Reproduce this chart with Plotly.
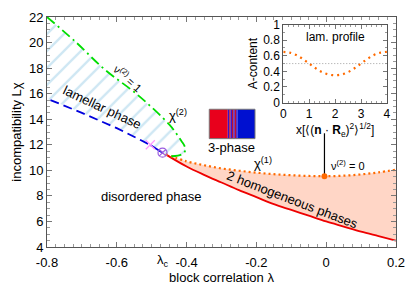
import plotly.graph_objects as go

# ---------------- data ----------------
lam_red = [-0.46, -0.40, -0.35, -0.30, -0.25, -0.20, -0.15, -0.10, -0.05, 0.00, 0.05, 0.10, 0.15, 0.20]
chi_red = [11.25, 10.3, 9.65, 9.05, 8.45, 7.9, 7.35, 6.9, 6.45, 6.0, 5.6, 5.2, 4.85, 4.5]

lam_orange = [-0.46, -0.40, -0.35, -0.30, -0.25, -0.20, -0.15, -0.10, -0.05, 0.00, 0.05, 0.10, 0.15, 0.20]
chi_orange = [11.25, 10.7, 10.4, 10.15, 9.97, 9.82, 9.7, 9.62, 9.56, 9.54, 9.58, 9.68, 9.84, 10.05]

lam_green = [-0.80, -0.72, -0.635, -0.54, -0.45, -0.43, -0.415, -0.405, -0.404, -0.41, -0.425, -0.445]
chi_green = [22.0, 20.1, 17.9, 15.9, 13.6, 12.9, 12.3, 11.85, 11.55, 11.3, 11.15, 11.1]

lam_blue_dash = [-0.79, -0.70, -0.60, -0.505]
chi_blue_dash = [15.5, 14.5, 13.3, 12.0]
lam_blue_solid = [-0.505, -0.469]
chi_blue_solid = [12.0, 11.38]

lam_cross, chi_cross = [-0.504], [12.0]
lam_crit, chi_crit = [-0.469], [11.38]
lam_nu0, chi_nu0 = [-0.005], [9.54]
lam_pointer, chi_pointer = [-0.005, -0.005], [9.54, 12.9]

x_ticks = [-0.8, -0.6, -0.4, -0.2, 0, 0.2]
x_tick_text = ["-0.8", "-0.6", "-0.4", "-0.2", "0", "0.2"]
y_ticks = [4, 6, 8, 10, 12, 14, 16, 18, 20, 22]

# inset: lamellar profile
x_prof = [0, 0.25, 0.5, 0.75, 1, 1.25, 1.5, 1.75, 2, 2.25, 2.5, 2.75, 3, 3.25, 3.5, 3.75, 4]
a_prof = [0.65, 0.64, 0.61, 0.56, 0.50, 0.44, 0.39, 0.36, 0.35, 0.36, 0.39, 0.44, 0.50, 0.56, 0.61, 0.64, 0.65]
x_half, a_half = [0, 4], [0.5, 0.5]

# 3-phase picture (block edges in λ, and colours)
phase_edges = [-0.335, -0.282, -0.278, -0.274, -0.270, -0.266, -0.262, -0.258, -0.254, -0.204]
phase_cols = ["#e8001c", "#3a10c8", "#c0102a", "#3a10c8", "#c0102a", "#3a10c8", "#c0102a", "#3a10c8", "#0010d0"]
phase_chi = [12.48, 14.78]

FONT = "Liberation Sans, Arial, sans-serif"

fig = go.Figure()

# hatched lamellar region
hatch_x = lam_green + lam_blue_solid[::-1] + lam_blue_dash[::-1] + [-0.8]
hatch_y = chi_green + chi_blue_solid[::-1] + chi_blue_dash[::-1] + [15.6]
fig.add_trace(go.Scatter(x=hatch_x, y=hatch_y, mode="none", fill="toself",
                         fillcolor="rgba(0,0,0,0)",
                         fillpattern=dict(shape="/", fgcolor="#9fd0e8", bgcolor="rgba(0,0,0,0)",
                                          size=12, solidity=0.2),
                         hoverinfo="skip", showlegend=False))

# pink two-phase region
fig.add_trace(go.Scatter(x=lam_red + lam_orange[::-1], y=chi_red + chi_orange[::-1],
                         mode="none", fill="toself", fillcolor="#ffd6c6",
                         hoverinfo="skip", showlegend=False))

fig.add_trace(go.Scatter(x=lam_red, y=chi_red, mode="lines", line=dict(color="#ee0000", width=1.8, shape="spline"),
                         showlegend=False))
fig.add_trace(go.Scatter(x=lam_orange, y=chi_orange, mode="lines",
                         line=dict(color="#ff6a00", width=2.2, dash="2px,3px", shape="spline"), showlegend=False))
fig.add_trace(go.Scatter(x=lam_green, y=chi_green, mode="lines",
                         line=dict(color="#00dd00", width=1.8, dash="10px,4px,2px,4px", shape="spline"),
                         showlegend=False))
fig.add_trace(go.Scatter(x=lam_blue_dash, y=chi_blue_dash, mode="lines",
                         line=dict(color="#0000dd", width=1.8, dash="9px,5px"), showlegend=False))
fig.add_trace(go.Scatter(x=lam_blue_solid, y=chi_blue_solid, mode="lines",
                         line=dict(color="#0000dd", width=1.8), showlegend=False))
fig.add_trace(go.Scatter(x=lam_pointer, y=chi_pointer, mode="lines",
                         line=dict(color="black", width=1.2), showlegend=False))
fig.add_trace(go.Scatter(x=lam_cross, y=chi_cross, mode="markers",
                         marker=dict(symbol="x-thin-open", size=9, line=dict(color="#ee0000", width=1.2)),
                         showlegend=False))
fig.add_trace(go.Scatter(x=lam_crit, y=chi_crit, mode="markers",
                         marker=dict(symbol="circle-x-open", size=9, color="#9a5ce0",
                                     line=dict(color="#9a5ce0", width=1.2)), showlegend=False))
fig.add_trace(go.Scatter(x=lam_nu0, y=chi_nu0, mode="markers",
                         marker=dict(symbol="circle", size=6, color="#ff6a00"), showlegend=False))

# inset traces
fig.add_trace(go.Scatter(x=x_half, y=a_half, xaxis="x2", yaxis="y2", mode="lines",
                         line=dict(color="#888888", width=0.8, dash="1px,2px"), showlegend=False))
fig.add_trace(go.Scatter(x=x_prof, y=a_prof, xaxis="x2", yaxis="y2", mode="lines",
                         line=dict(color="#ff6a00", width=2.2, dash="2px,4px", shape="spline"), showlegend=False))

# 3-phase picture
for i, c in enumerate(phase_cols):
    fig.add_shape(type="rect", xref="x", yref="y", x0=phase_edges[i], x1=phase_edges[i + 1],
                  y0=phase_chi[0], y1=phase_chi[1], fillcolor=c, line=dict(width=0), layer="above")
fig.add_shape(type="rect", xref="x", yref="y", x0=phase_edges[0], x1=phase_edges[-1],
              y0=phase_chi[0], y1=phase_chi[1], fillcolor="rgba(0,0,0,0)",
              line=dict(color="#777777", width=1), layer="above")

def ann(text, x, y, size=13, angle=0, xref="x", yref="y", **kw):
    fig.add_annotation(text=text, x=x, y=y, xref=xref, yref=yref, showarrow=False,
                       textangle=angle, font=dict(family=FONT, size=size, color="black"), **kw)

ann("lamellar phase", -0.641, 14.93, angle=25)
ann("ν<sup>(2)</sup> = 1", -0.569, 17.2, size=11, angle=42)
ann("χ<sup>(2)</sup>", -0.424, 14.3)
ann("χ<sup>(1)</sup>", -0.182, 10.55)
ann("ν<sup>(2)</sup> = 0", 0.063, 10.45, size=11)
ann("2 homogeneous phases", -0.098, 7.75, angle=21)
ann("disordered phase", -0.503, 7.94)
ann("3-phase", -0.271, 11.8)
ann("lam. profile", 2.0, 0.84, size=12, xref="x2", yref="y2")
ann("λ<sub>c</sub>", -0.469, 0, xref="x", yref="paper", yanchor="top", yshift=-3)

axis_common = dict(showline=True, linecolor="#555555", linewidth=1, mirror="ticks",
                   ticks="inside", tickcolor="#777777", ticklen=5, showgrid=False, zeroline=False,
                   tickfont=dict(family=FONT, size=13, color="black"))

fig.update_layout(
    width=415, height=290,
    margin=dict(l=47, r=10, t=10, b=38),
    paper_bgcolor="white", plot_bgcolor="white",
    font=dict(family=FONT, size=13, color="black"),
    showlegend=False,
    xaxis=dict(range=[-0.8, 0.2], tickvals=x_ticks, ticktext=x_tick_text, ticklabelstandoff=3,
               minor=dict(dtick=0.025, tick0=0, ticks="inside", ticklen=3, tickcolor="#999999"),
               title=dict(text="block correlation λ", font=dict(family=FONT, size=13), standoff=1),
               **axis_common),
    yaxis=dict(range=[4, 22], tickvals=y_ticks,
               minor=dict(dtick=0.5, tick0=0, ticks="inside", ticklen=3, tickcolor="#999999"),
               title=dict(text="incompatibility Lχ", font=dict(family=FONT, size=13), standoff=4),
               **axis_common),
    xaxis2=dict(domain=[0.677, 0.974], anchor="y2", range=[0, 4], dtick=1,
                showline=True, linecolor="#555555", linewidth=1, mirror="ticks",
                ticks="inside", tickcolor="#777777", ticklen=4, showgrid=False, zeroline=False,
                minor=dict(dtick=0.2, ticks="inside", ticklen=2, tickcolor="#999999"),
                tickfont=dict(family=FONT, size=12, color="black"),
                title=dict(text="x[⟨(<b>n</b> · <b>R</b><sub>e</sub>)<sup>2</sup>⟩<sup>1/2</sup>]",
                           font=dict(family=FONT, size=12), standoff=2)),
    yaxis2=dict(domain=[0.628, 0.967], anchor="x2", range=[0, 1], dtick=0.2,
                showline=True, linecolor="#555555", linewidth=1, mirror="ticks",
                ticks="inside", tickcolor="#777777", ticklen=4, showgrid=False, zeroline=False,
                minor=dict(dtick=0.1, ticks="inside", ticklen=2, tickcolor="#999999"),
                tickfont=dict(family=FONT, size=12, color="black"),
                title=dict(text="A-content", font=dict(family=FONT, size=12), standoff=2)),
)

fig.write_html("out.html", config={"displayModeBar": False},
               post_script="document.body.style.margin='0';")
